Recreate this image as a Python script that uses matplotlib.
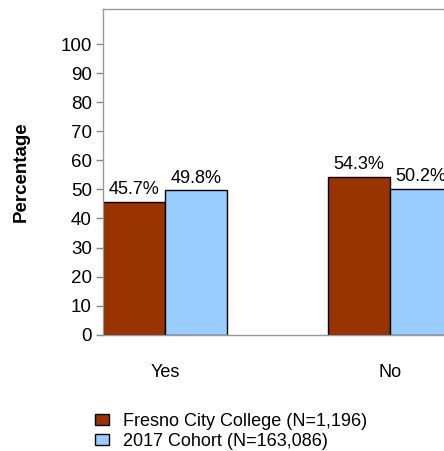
import matplotlib
matplotlib.use("Agg")
import matplotlib.pyplot as plt
from matplotlib.patches import Patch

plt.rcParams['font.family'] = ['Liberation Sans', 'DejaVu Sans']

categories = ["Yes", "No"]
fresno = [45.7, 54.3]
cohort = [49.8, 50.2]
series_names = ["Fresno City College (N=1,196)", "2017 Cohort (N=163,086)"]
yticks = list(range(0, 101, 10))

red = "#993300"
blue = "#99CCFF"
w = 0.275
fs = 13

fig = plt.figure(figsize=(4.44, 4.51), dpi=100)
ax = fig.add_axes([103 / 444, 116.3 / 451, 349 / 444, 325.4 / 451])

x = list(range(len(categories)))
b1 = ax.bar([i - w / 2 for i in x], fresno, w, color=red, edgecolor="black", linewidth=1)
b2 = ax.bar([i + w / 2 for i in x], cohort, w, color=blue, edgecolor="black", linewidth=1)

# value labels above bars
for bars, vals in ((b1, fresno), (b2, cohort)):
    for b, v in zip(bars, vals):
        ax.text(b.get_x() + b.get_width() / 2, v + 1.2, f"{v}%", ha="center", va="bottom", fontsize=fs)

ax.set_xlim(-w, 1 + w)
ax.set_ylim(0, 112)
ax.set_yticks(yticks)
ax.set_xticks(x)
ax.set_xticklabels(categories, fontsize=fs)
ax.tick_params(axis="x", length=0, pad=21)
ax.tick_params(axis="y", colors="#888888", labelcolor="black", labelsize=13.5, length=5, width=1, pad=3)
for s in ax.spines.values():
    s.set_color("#999999")
    s.set_linewidth(1)
ax.set_ylabel("Percentage", fontsize=13.5, fontweight="bold", labelpad=22)

handles = [Patch(facecolor=red, edgecolor="black"), Patch(facecolor=blue, edgecolor="black")]
fig.legend(handles, series_names, loc="upper left", bbox_to_anchor=(95 / 444, 1 - 413 / 451),
           frameon=False, fontsize=fs, handlelength=0.78, handleheight=0.55, handletextpad=0.75,
           labelspacing=0.15, borderaxespad=0, borderpad=0)

fig.savefig("out.png", dpi=100)
